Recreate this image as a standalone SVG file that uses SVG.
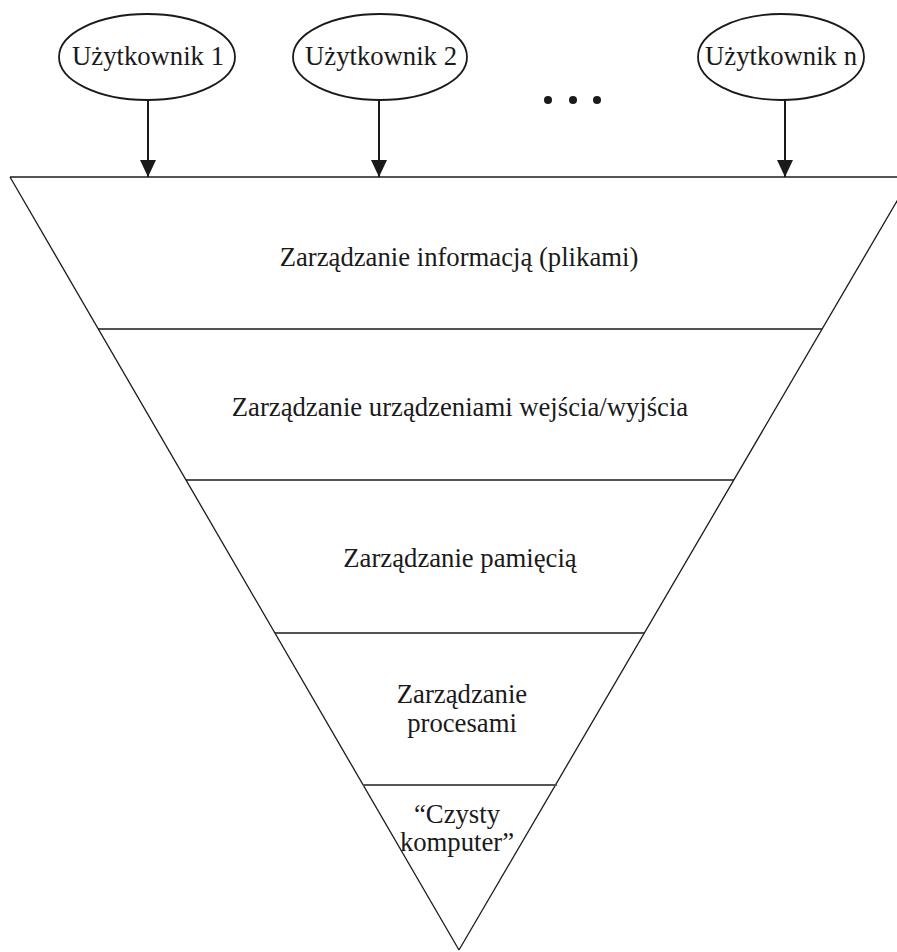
<svg xmlns="http://www.w3.org/2000/svg" width="897" height="952" viewBox="0 0 897 952">
  <style>
    text { font-family: 'Liberation Serif', 'Times New Roman', 'DejaVu Serif', serif; font-size: 26.7px; fill: #1a1a1a; text-anchor: middle; }
    .edge { stroke: #1a1a1a; stroke-width: 1.3; fill: none; }
    .band { stroke: #1a1a1a; stroke-width: 1.5; fill: none; }
    .band-g { stroke: #555; stroke-width: 2; fill: none; }
    .user { fill: #fff; stroke: #1a1a1a; stroke-width: 1.8; }
    .conn { stroke: #1a1a1a; stroke-width: 2; fill: none; }
  </style>
  <defs>
    <marker id="arrow" markerUnits="userSpaceOnUse" markerWidth="18" markerHeight="16" refX="17" refY="8" orient="auto" viewBox="0 0 18 16">
      <path d="M0,0 L17,8 L0,16 Z" fill="#1a1a1a"/>
    </marker>
  </defs>
  <rect width="897" height="952" fill="#fff"/>

  <!-- layered inverted triangle -->
  <g id="pyramid">
    <line class="band-g" x1="10" y1="177" x2="897" y2="177"/>
    <line class="edge" x1="10" y1="177" x2="459" y2="950"/>
    <line class="edge" x1="911" y1="177" x2="459" y2="950"/>
    <line class="band" x1="98" y1="329" x2="822" y2="329"/>
    <line class="band" x1="186" y1="480" x2="734" y2="480"/>
    <line class="band" x1="275" y1="633" x2="644" y2="633"/>
    <line class="band-g" x1="363" y1="785" x2="557" y2="785"/>
  </g>

  <g id="layer-files">
    <text x="459" y="266">Zarządzanie informacją (plikami)</text>
  </g>
  <g id="layer-io">
    <text x="460" y="416">Zarządzanie urządzeniami wejścia/wyjścia</text>
  </g>
  <g id="layer-memory">
    <text x="460" y="567">Zarządzanie pamięcią</text>
  </g>
  <g id="layer-processes">
    <text x="462" y="703">Zarządzanie</text>
    <text x="462" y="732">procesami</text>
  </g>
  <g id="layer-hardware">
    <text x="457" y="823">“Czysty</text>
    <text x="457" y="851">komputer”</text>
  </g>

  <!-- users -->
  <g id="user-1">
    <ellipse class="user" cx="147" cy="57" rx="88" ry="43"/>
    <text x="148" y="65">Użytkownik 1</text>
  </g>
  <g id="user-2">
    <ellipse class="user" cx="380" cy="57" rx="87" ry="43"/>
    <text x="381" y="65">Użytkownik 2</text>
  </g>
  <g id="user-n">
    <ellipse class="user" cx="781" cy="57" rx="83" ry="43"/>
    <text x="781" y="65">Użytkownik n</text>
  </g>

  <g id="ellipsis" fill="#1a1a1a">
    <circle cx="548" cy="100" r="4"/>
    <circle cx="573" cy="100" r="4"/>
    <circle cx="597" cy="100" r="4"/>
  </g>

  <g id="connectors">
    <line class="conn" x1="148" y1="100" x2="148" y2="177" marker-end="url(#arrow)"/>
    <line class="conn" x1="379" y1="100" x2="379" y2="177" marker-end="url(#arrow)"/>
    <line class="conn" x1="785" y1="100" x2="785" y2="177" marker-end="url(#arrow)"/>
  </g>
</svg>
